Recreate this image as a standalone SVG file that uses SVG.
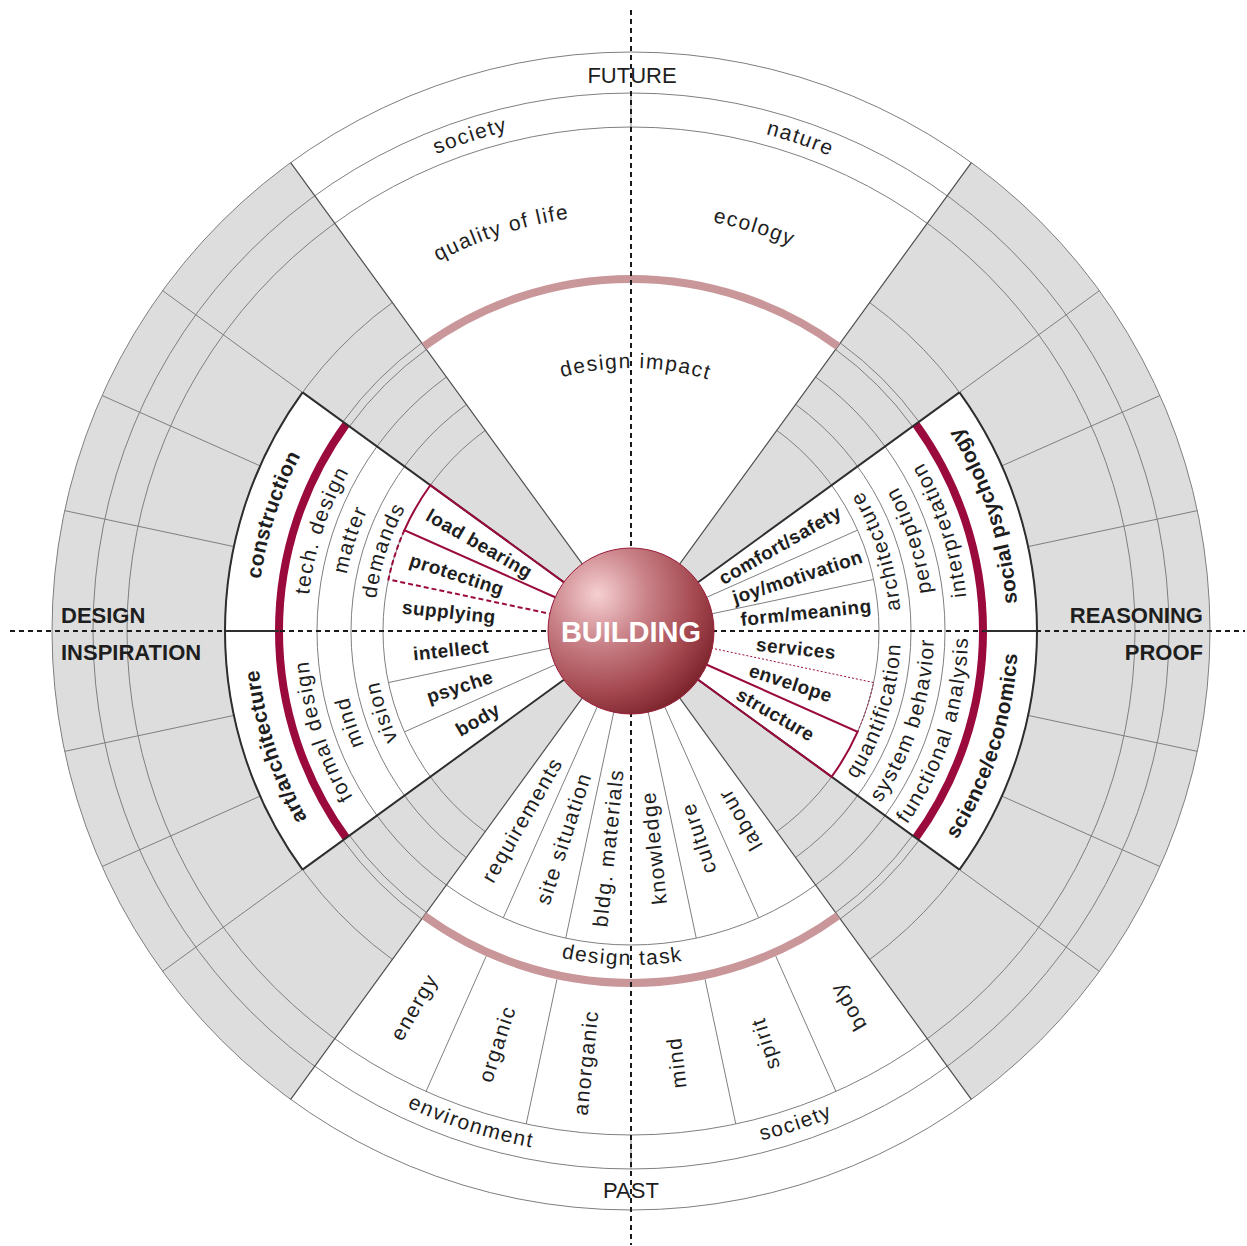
<svg xmlns="http://www.w3.org/2000/svg" xmlns:xlink="http://www.w3.org/1999/xlink" width="1247" height="1246" viewBox="0 0 1247 1246">
<style>
.gr{fill:#dddddd}
.w{fill:#ffffff}
.thin{fill:none;stroke:#7f7f7f;stroke-width:1}
.sec{fill:none;stroke:#4f4f4f;stroke-width:1.2}
.blk{fill:none;stroke:#2e2e2e;stroke-width:2}
.cr{fill:none;stroke:#9b0a3c;stroke-width:2}
.crd{fill:none;stroke:#9b0a3c;stroke-width:2;stroke-dasharray:5 3}
.crdot{fill:none;stroke:#9b0a3c;stroke-width:1;stroke-dasharray:2 2}
.band{fill:none;stroke:#9b0a3c;stroke-width:8}
.pink{fill:none;stroke:#c9979a;stroke-width:8}
.axis{fill:none;stroke:#1a1a1a;stroke-width:2;stroke-dasharray:5 4}
.t{font-family:"Liberation Sans",Arial,sans-serif;font-size:21px;letter-spacing:1.5px;fill:#1e1e1e}
.tb{font-family:"Liberation Sans",Arial,sans-serif;font-size:21px;font-weight:bold;letter-spacing:0.3px;fill:#1e1e1e}
.ti{font-family:"Liberation Sans",Arial,sans-serif;font-size:19px;font-weight:bold;letter-spacing:0.5px;fill:#1e1e1e}
.lab{font-family:"Liberation Sans",Arial,sans-serif;font-size:22px;fill:#1e1e1e}
.labb{font-family:"Liberation Sans",Arial,sans-serif;font-size:22px;font-weight:bold;fill:#1e1e1e}
</style>
<defs>
<radialGradient id="sph" cx="0.3" cy="0.28" r="0.85" fx="0.3" fy="0.28">
<stop offset="0" stop-color="#f6d0d2"/>
<stop offset="0.35" stop-color="#c98288"/>
<stop offset="0.7" stop-color="#a4474f"/>
<stop offset="1" stop-color="#701a22"/>
</radialGradient>
<!-- left upper -->
<path id="pL1" d="M284.23,771.10 A374,374 0 0 1 432.81,313.83"/>
<path id="pL2" d="M330.59,752.37 A324,324 0 0 1 459.31,356.23"/>
<path id="pL3" d="M362.12,739.64 A290,290 0 0 1 477.32,385.07"/>
<path id="pL4" d="M392.71,727.27 A257,257 0 0 1 494.81,413.05"/>
<!-- left lower -->
<path id="pL5" d="M432.81,948.17 A374,374 0 0 1 284.23,490.90"/>
<path id="pL6" d="M459.31,905.77 A324,324 0 0 1 330.59,509.63"/>
<path id="pL7" d="M477.32,876.93 A290,290 0 0 1 362.12,522.36"/>
<path id="pL8" d="M494.81,848.95 A257,257 0 0 1 392.71,534.73"/>
<!-- right upper -->
<path id="pR1" d="M989.82,775.97 A387,387 0 0 0 836.08,302.80"/>
<path id="pR2" d="M943.46,757.24 A337,337 0 0 0 809.58,345.21"/>
<path id="pR3" d="M911.94,744.51 A303,303 0 0 0 791.57,374.04"/>
<path id="pR4" d="M881.34,732.14 A270,270 0 0 0 774.08,402.03"/>
<!-- right lower -->
<path id="pR5" d="M836.08,959.20 A387,387 0 0 0 989.82,486.03"/>
<path id="pR6" d="M809.58,916.79 A337,337 0 0 0 943.46,504.76"/>
<path id="pR7" d="M791.57,887.96 A303,303 0 0 0 911.94,517.49"/>
<path id="pR8" d="M774.08,859.97 A270,270 0 0 0 881.34,529.86"/>
<!-- top -->
<path id="pDI" d="M465.49,426.61 A263,263 0 0 1 803.54,432.51"/>
<path id="pSoc" d="M194.25,358.09 A515,515 0 0 1 823.92,153.50"/>
<path id="pNat" d="M446.44,150.21 A515,515 0 0 1 1072.44,365.75"/>
<path id="pQol" d="M277.36,410.02 A417,417 0 0 1 787.21,244.37"/>
<path id="pEco" d="M468.07,247.15 A417,417 0 0 1 980.73,403.89"/>
<!-- bottom -->
<path id="pDT" d="M409.68,881.15 A334,334 0 0 0 838.92,892.39"/>
<path id="pEnv" d="M184.93,909.74 A526,526 0 0 0 828.04,1118.70"/>
<path id="pSoc2" d="M438.22,1120.40 A526,526 0 0 0 1079.49,905.84"/>
</defs>

<g id="background">
<circle cx="631" cy="631" r="579" class="gr"/>
<path class="w" d="M631,631 L971.33,162.58 A579,579 0 0 0 290.67,162.58 Z"/>
<path class="w" d="M631,631 L290.67,1099.42 A579,579 0 0 0 971.33,1099.42 Z"/>
<path class="w" d="M631,631 L302.54,392.36 A406,406 0 0 0 302.54,869.64 Z"/>
<path class="w" d="M631,631 L959.46,869.64 A406,406 0 0 0 959.46,392.36 Z"/>
</g>

<g id="connectors">
<!-- rings -->
<circle cx="631" cy="631" r="579" class="thin"/>
<circle cx="631" cy="631" r="538" class="thin"/>
<circle cx="631" cy="631" r="504" class="thin"/>
<path class="thin" d="M392.36,302.54 A406,406 0 0 0 392.36,959.46"/>
<path class="thin" d="M869.64,959.46 A406,406 0 0 0 869.64,302.54"/>
<path class="thin" d="M446.43,376.97 A314,314 0 1 0 815.57,376.97"/>
<path class="thin" d="M466.42,404.47 A280,280 0 0 0 466.42,857.53"/>
<path class="thin" d="M795.58,857.53 A280,280 0 0 0 795.58,404.47"/>
<path class="thin" d="M485.23,430.36 A248,248 0 0 0 485.23,831.64"/>
<path class="thin" d="M776.77,831.64 A248,248 0 0 0 776.77,430.36"/>
<!-- gap arcs -->
<path class="thin" d="M426.45,349.46 A348,348 0 0 0 349.46,426.45 M421.75,342.99 A356,356 0 0 0 342.99,421.75"/>
<path class="thin" d="M349.46,835.55 A348,348 0 0 0 426.45,912.54 M342.99,840.25 A356,356 0 0 0 421.75,919.01"/>
<path class="thin" d="M912.54,426.45 A348,348 0 0 0 835.55,349.46 M919.01,421.75 A356,356 0 0 0 840.25,342.99"/>
<path class="thin" d="M835.55,912.54 A348,348 0 0 0 912.54,835.55 M840.25,919.01 A356,356 0 0 0 919.01,840.25"/>
<!-- outer radial lines in gray zones -->
<path class="thin" d="M302.54,392.36 L162.58,290.67 M260.10,465.86 L102.05,395.50 M233.87,546.59 L64.65,510.62 M233.87,715.41 L64.65,751.38 M260.10,796.14 L102.05,866.50 M302.54,869.64 L162.58,971.33"/>
<path class="thin" d="M959.46,392.36 L1099.42,290.67 M1001.90,465.86 L1159.95,395.50 M1028.13,546.59 L1197.35,510.62 M1028.13,715.41 L1197.35,751.38 M1001.90,796.14 L1159.95,866.50 M959.46,869.64 L1099.42,971.33"/>
<!-- inner dividers -->
<path class="thin" d="M549.81,648.26 L388.42,682.56 M555.17,664.76 L404.44,731.87"/>
<path class="thin" d="M706.83,597.24 L857.56,530.13 M712.19,613.74 L873.58,579.44"/>
<path class="thin" d="M597.24,706.83 L503.28,917.85 M613.74,712.19 L565.72,938.14 M648.26,712.19 L696.28,938.14 M664.76,706.83 L758.72,917.85"/>
<path class="thin" d="M486.20,956.22 L426.00,1091.43 M556.98,979.22 L526.21,1123.99 M705.02,979.22 L735.79,1123.99 M775.80,956.22 L836.00,1091.43"/>
<path class="thin" d="M631,93 V127 M631,1135 V1169"/>
<!-- sector boundaries -->
<path class="sec" d="M582.21,563.85 L290.67,162.58 M679.79,563.85 L971.33,162.58 M582.21,698.15 L290.67,1099.42 M679.79,698.15 L971.33,1099.42"/>
<!-- bands -->
<path class="pink" d="M837.90,346.22 A352,352 0 0 0 424.10,346.22"/>
<path class="pink" d="M424.10,915.78 A352,352 0 0 0 837.90,915.78"/>
<path class="band" d="M346.22,424.10 A352,352 0 0 0 346.22,837.90"/>
<path class="band" d="M915.78,837.90 A352,352 0 0 0 915.78,424.10"/>
<!-- block outlines -->
<path class="blk" d="M302.54,392.36 A406,406 0 0 0 302.54,869.64 M563.85,582.21 L302.54,392.36 M563.85,679.79 L302.54,869.64"/>
<path class="blk" d="M959.46,869.64 A406,406 0 0 0 959.46,392.36 M698.15,582.21 L959.46,392.36 M698.15,679.79 L959.46,869.64"/>
<!-- crimson subsector outlines -->
<path class="cr" d="M563.85,582.21 L430.36,485.23 A248,248 0 0 0 404.44,530.13 L555.17,597.24"/>
<path class="crd" d="M404.44,530.13 A248,248 0 0 0 388.42,579.44 L549.81,613.74"/>
<path class="cr" d="M698.15,679.79 L831.64,776.77 A248,248 0 0 0 857.56,731.87 L706.83,664.76"/>
<path class="crdot" d="M857.56,731.87 A248,248 0 0 0 873.58,682.56 L712.19,648.26"/>
</g>

<g id="top-sector">
<text class="lab" x="632" y="83" text-anchor="middle">FUTURE</text>
<text class="t" text-anchor="middle"><textPath href="#pSoc" startOffset="50%">society</textPath></text>
<text class="t" text-anchor="middle"><textPath href="#pNat" startOffset="50%">nature</textPath></text>
<text class="t" text-anchor="middle"><textPath href="#pQol" startOffset="50%">quality of life</textPath></text>
<text class="t" text-anchor="middle"><textPath href="#pEco" startOffset="50%">ecology</textPath></text>
<text class="t" text-anchor="middle"><textPath href="#pDI" startOffset="50%">design impact</textPath></text>
</g>

<g id="left-block">
<text class="tb" text-anchor="middle"><textPath href="#pL1" startOffset="50%">construction</textPath></text>
<text class="t" text-anchor="middle"><textPath href="#pL2" startOffset="50%">tech. design</textPath></text>
<text class="t" text-anchor="middle"><textPath href="#pL3" startOffset="50%">matter</textPath></text>
<text class="t" text-anchor="middle"><textPath href="#pL4" startOffset="50%">demands</textPath></text>
<text class="tb" text-anchor="middle"><textPath href="#pL5" startOffset="50%">art/architecture</textPath></text>
<text class="t" text-anchor="middle"><textPath href="#pL6" startOffset="50%">formal design</textPath></text>
<text class="t" text-anchor="middle"><textPath href="#pL7" startOffset="50%">mind</textPath></text>
<text class="t" text-anchor="middle"><textPath href="#pL8" startOffset="50%">vision</textPath></text>
<text class="ti" text-anchor="middle" dy="0.35em" transform="translate(479.45,543.5) rotate(30)">load bearing</text>
<text class="ti" text-anchor="middle" dy="0.35em" transform="translate(456.96,574.45) rotate(18)">protecting</text>
<text class="ti" text-anchor="middle" dy="0.35em" transform="translate(449.0,611.87) rotate(6)">supplying</text>
<text class="ti" text-anchor="middle" dy="0.35em" transform="translate(450.99,649.92) rotate(-6)">intellect</text>
<text class="ti" text-anchor="middle" dy="0.35em" transform="translate(459.81,686.62) rotate(-18)">psyche</text>
<text class="ti" text-anchor="middle" dy="0.35em" transform="translate(477.71,719.5) rotate(-30)">body</text>
</g>

<g id="right-block">
<text class="tb" text-anchor="middle"><textPath href="#pR1" startOffset="50%">social psychology</textPath></text>
<text class="t" text-anchor="middle"><textPath href="#pR2" startOffset="50%">interpretation</textPath></text>
<text class="t" text-anchor="middle"><textPath href="#pR3" startOffset="50%">perception</textPath></text>
<text class="t" text-anchor="middle"><textPath href="#pR4" startOffset="50%">architecture</textPath></text>
<text class="tb" text-anchor="middle"><textPath href="#pR5" startOffset="50%">science/economics</textPath></text>
<text class="t" text-anchor="middle"><textPath href="#pR6" startOffset="50%">functional analysis</textPath></text>
<text class="t" text-anchor="middle"><textPath href="#pR7" startOffset="50%">system behavior</textPath></text>
<text class="t" text-anchor="middle"><textPath href="#pR8" startOffset="50%">quantification</textPath></text>
<text class="ti" text-anchor="middle" dy="0.35em" transform="translate(779.96,545) rotate(-30)">comfort/safety</text>
<text class="ti" text-anchor="middle" dy="0.35em" transform="translate(797.44,576.92) rotate(-18)">joy/motivation</text>
<text class="ti" text-anchor="middle" dy="0.35em" transform="translate(806.04,612.6) rotate(-6)">form/meaning</text>
<text class="ti" text-anchor="middle" dy="0.35em" transform="translate(796.09,648.35) rotate(6)">services</text>
<text class="ti" text-anchor="middle" dy="0.35em" transform="translate(790.78,682.92) rotate(18)">envelope</text>
<text class="ti" text-anchor="middle" dy="0.35em" transform="translate(775.63,714.5) rotate(30)">structure</text>
</g>

<g id="bottom-sector">
<text class="t" text-anchor="middle" dy="0.35em" transform="translate(522,819.79) rotate(-60)">requirements</text>
<text class="t" text-anchor="middle" dy="0.35em" transform="translate(563.63,838.33) rotate(-72)">site situation</text>
<text class="t" text-anchor="middle" dy="0.35em" transform="translate(608.21,847.81) rotate(-84)">bldg. materials</text>
<text class="t" text-anchor="middle" dy="0.35em" transform="translate(653.79,847.81) rotate(-96)">knowledge</text>
<text class="t" text-anchor="middle" dy="0.35em" transform="translate(698.37,838.33) rotate(-108)">culture</text>
<text class="t" text-anchor="middle" dy="0.35em" transform="translate(740,819.79) rotate(-120)">labour</text>
<text class="t" text-anchor="middle"><textPath href="#pDT" startOffset="50%">design task</textPath></text>
<text class="t" text-anchor="middle" dy="0.35em" transform="translate(414,1006.85) rotate(-60)">energy</text>
<text class="t" text-anchor="middle" dy="0.35em" transform="translate(496.89,1043.76) rotate(-72)">organic</text>
<text class="t" text-anchor="middle" dy="0.35em" transform="translate(585.63,1062.62) rotate(-84)">anorganic</text>
<text class="t" text-anchor="middle" dy="0.35em" transform="translate(676.37,1062.62) rotate(-96)">mind</text>
<text class="t" text-anchor="middle" dy="0.35em" transform="translate(765.11,1043.76) rotate(-108)">spirit</text>
<text class="t" text-anchor="middle" dy="0.35em" transform="translate(848,1006.85) rotate(-120)">body</text>
<text class="t" text-anchor="middle"><textPath href="#pEnv" startOffset="50%">environment</textPath></text>
<text class="t" text-anchor="middle"><textPath href="#pSoc2" startOffset="50%">society</textPath></text>
<text class="lab" x="631" y="1198" text-anchor="middle">PAST</text>
</g>

<g id="side-labels">
<text class="labb" x="61" y="623">DESIGN</text>
<text class="labb" x="61" y="660">INSPIRATION</text>
<text class="labb" x="1203" y="623" text-anchor="end">REASONING</text>
<text class="labb" x="1203" y="660" text-anchor="end">PROOF</text>
</g>

<g id="axes">
<path class="axis" d="M10,631 H1245 M631,10 V1245"/>
<path class="blk" d="M225,631 H279 M983,631 H1037"/>
</g>

<g id="building">
<circle cx="631" cy="631" r="83" fill="url(#sph)" stroke="#9b1c3a" stroke-width="1"/>
<text x="631" y="642" text-anchor="middle" font-family="'Liberation Sans',Arial,sans-serif" font-size="29" font-weight="bold" fill="#ffffff">BUILDING</text>
</g>
</svg>
